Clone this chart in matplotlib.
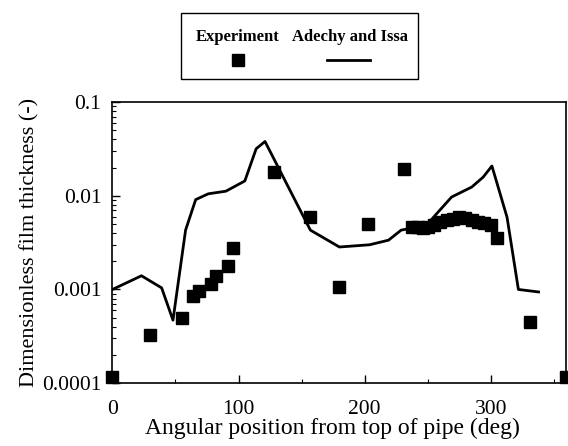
import numpy as np
import matplotlib
matplotlib.use("Agg")
import matplotlib.pyplot as plt
from matplotlib.lines import Line2D
from matplotlib.patches import Rectangle
from matplotlib.ticker import FixedLocator, FixedFormatter, LogLocator, NullFormatter

# ----------------------
# Data
# ----------------------
exp_angle = [0, 30, 55, 64, 69, 78, 82, 92, 96, 128, 157, 180, 203, 231,
             238, 242, 246, 250, 255, 260, 265, 270, 275, 280, 285, 290, 295, 300,
             305, 331, 360]
exp_thick = [0.000115, 0.00033, 0.00049, 0.00085, 0.00096, 0.00113, 0.0014, 0.00177, 0.0028,
             0.0178, 0.0060, 0.00107, 0.0050, 0.0193,
             0.0046, 0.0046, 0.0045, 0.0046, 0.0049, 0.0052, 0.0055, 0.0057, 0.0059,
             0.0058, 0.0055, 0.0053, 0.0051, 0.0049,
             0.00356, 0.00045, 0.000115]

model_angle = [0, 23, 39, 48, 58, 66, 76, 90, 105, 114, 121, 157, 180, 204, 219,
               229, 249, 269, 285, 294, 301, 313, 322, 338]
model_thick = [0.001, 0.0014, 0.00104, 0.00047, 0.0043, 0.0091, 0.0105, 0.0112, 0.0144,
               0.0318, 0.038, 0.0043, 0.00284, 0.0030, 0.00336, 0.0043, 0.00485, 0.0097,
               0.0124, 0.0158, 0.0208, 0.0059, 0.001, 0.00094]

y_ticks = [0.0001, 0.001, 0.01, 0.1]
y_tick_labels = ["0.0001", "0.001", "0.01", "0.1"]
x_ticks = [0, 100, 200, 300]

plt.rcParams["font.family"] = ["Liberation Serif", "DejaVu Serif"]

fig = plt.figure(figsize=(5.68, 4.46), dpi=100)
ax = fig.add_axes([0.198, 0.141, 0.799, 0.63])

ax.plot(model_angle, model_thick, color="black", lw=2)
ax.plot(exp_angle, exp_thick, linestyle="none", marker="s", color="black",
        markersize=8.5, clip_on=False, zorder=5)

ax.set_yscale("log")
ax.set_xlim(0, 360)
ax.set_ylim(0.0001, 0.1)

ax.yaxis.set_major_locator(FixedLocator(y_ticks))
ax.yaxis.set_major_formatter(FixedFormatter(y_tick_labels))
ax.yaxis.set_minor_locator(LogLocator(base=10, subs=np.arange(2, 10)))
ax.yaxis.set_minor_formatter(NullFormatter())
ax.set_xticks(x_ticks)
ax.set_xticks([50, 150, 250, 350], minor=True)

ax.tick_params(which="both", direction="in", top=False, right=False, labelsize=15.5)
ax.tick_params(which="major", length=6, width=1)
ax.tick_params(which="minor", length=3, width=0.8)
ax.tick_params(axis="x", pad=12)
ax.tick_params(axis="y", pad=8)
for s in ax.spines.values():
    s.set_linewidth(1.2)

ax.set_xlabel("Angular position from top of pipe (deg)", fontsize=17, labelpad=0)
ax.xaxis.set_label_coords(0.485, -0.125)
ax.set_ylabel("Dimensionless film thickness (-)", fontsize=16, labelpad=2)

# hand-made legend box: labels above their symbols
W, H = 568.0, 446.0
fig.patches.append(Rectangle((181 / W, 1 - 79 / H), 237 / W, 66 / H, transform=fig.transFigure,
                             fill=False, edgecolor="black", lw=1.0))
fig.text(238 / W, 1 - 37 / H, "Experiment", ha="center", va="center",
         fontsize=12, fontweight="bold")
fig.text(350 / W, 1 - 37 / H, "Adechy and Issa", ha="center", va="center",
         fontsize=12, fontweight="bold")
fig.lines.append(Line2D([238 / W], [1 - 60 / H], transform=fig.transFigure, marker="s",
                        color="black", markersize=8.5, linestyle="none"))
fig.lines.append(Line2D([327 / W, 370 / W], [1 - 60 / H, 1 - 60 / H], transform=fig.transFigure,
                        color="black", lw=2))

fig.savefig("out.png", dpi=100)
